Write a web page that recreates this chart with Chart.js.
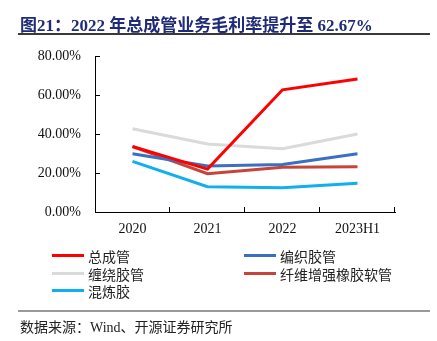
<!DOCTYPE html>
<html>
<head>
<meta charset="utf-8">
<script src="https://cdn.jsdelivr.net/npm/chart.js@4/dist/chart.umd.min.js"></script>
<style>
  html, body { margin: 0; padding: 0; background: #fff; }
  #wrap { position: relative; width: 437px; height: 341px; overflow: hidden; }
  #chart { position: absolute; left: 0; top: 0; }
  .title { position: absolute; left: 20px; top: 11px; line-height: 20px; font: bold 17px "Liberation Serif", "Noto Sans CJK SC", serif; color: #1f2a78; white-space: nowrap; }
  .rule { position: absolute; left: 18px; width: 412px; }
  .legend-item { position: absolute; height: 18px; line-height: 18px; font: 14px "Liberation Serif", "Noto Sans CJK SC", serif; color: #222; white-space: nowrap; }
  .legend-item i { position: absolute; left: 0; top: 8px; width: 32px; height: 3px; }
  .legend-item span { position: absolute; left: 36px; top: 0; }
  .source { position: absolute; left: 20px; top: 316px; line-height: 18px; font: 14px "Liberation Serif", "Noto Sans CJK SC", serif; color: #222; white-space: nowrap; }
</style>
</head>
<body>
<div id="wrap">
  <canvas id="chart" width="437" height="341"></canvas>
  <div class="title">图21：2022 年总成管业务毛利率提升至 62.67%</div>
  <div class="rule" style="top:33px;height:2px;background:#3a3a3a;"></div>
  <div id="legend"></div>
  <div class="rule" style="top:310px;height:2px;background:#9a9a9a;"></div>
  <div class="source">数据来源：Wind、开源证券研究所</div>
</div>
<script>
// Gross margin by product line, %
const categories = ['2020', '2021', '2022', '2023H1'];
const assemblyHose = [33.6, 22.0, 62.67, 68.2];      // 总成管
const braidedHose = [29.9, 23.6, 24.4, 29.9];       // 编织胶管
const wrappedHose = [42.7, 34.9, 32.5, 40.0];       // 缠绕胶管
const fiberHose = [33.5, 19.6, 22.9, 23.2];         // 纤维增强橡胶软管
const rubberCompound = [26.0, 13.0, 12.5, 14.7];    // 混炼胶
const yTicks = [0, 20, 40, 60, 80];

const series = [
  { name: '总成管', data: assemblyHose, color: '#ff0000', col: 0, row: 0 },
  { name: '编织胶管', data: braidedHose, color: '#3a70c4', col: 1, row: 0 },
  { name: '缠绕胶管', data: wrappedHose, color: '#dadada', col: 0, row: 1 },
  { name: '纤维增强橡胶软管', data: fiberHose, color: '#c6443a', col: 1, row: 1 },
  { name: '混炼胶', data: rubberCompound, color: '#10b0ee', col: 0, row: 2 }
];

// HTML legend in two columns
const legendEl = document.getElementById('legend');
series.forEach(s => {
  const d = document.createElement('div');
  d.className = 'legend-item';
  d.style.left = (s.col === 0 ? 52 : 244) + 'px';
  d.style.top = (246 + s.row * 17.5) + 'px';
  d.innerHTML = '<i style="background:' + s.color + '"></i><span>' + s.name + '</span>';
  legendEl.appendChild(d);
});

// Short inward tick marks on both axes
const innerTicks = {
  id: 'innerTicks',
  afterDraw(chart) {
    const { ctx, chartArea: a, scales } = chart;
    ctx.save();
    ctx.strokeStyle = '#000';
    ctx.lineWidth = 1;
    ctx.beginPath();
    yTicks.forEach(v => {
      const y = Math.round(scales.y.getPixelForValue(v)) + 0.5;
      ctx.moveTo(a.left, y); ctx.lineTo(a.left + 5, y);
    });
    const step = (a.right - a.left) / categories.length;
    for (let i = 1; i <= categories.length; i++) {
      const x = Math.round(a.left + step * i) - 0.5;
      ctx.moveTo(x, a.bottom); ctx.lineTo(x, a.bottom - 5);
    }
    ctx.stroke();
    ctx.restore();
  }
};

const serif = '"Liberation Serif", "Times New Roman", serif';

new Chart(document.getElementById('chart'), {
  type: 'line',
  data: {
    labels: categories,
    datasets: series.map(s => ({
      label: s.name,
      data: s.data,
      borderColor: s.color,
      backgroundColor: s.color,
      borderWidth: 3,
      pointRadius: 0,
      tension: 0,
      fill: false
    }))
  },
  options: {
    responsive: false,
    animation: false,
    layout: { padding: { top: 56, right: 42, left: 0, bottom: 0 } },
    plugins: { legend: { display: false }, tooltip: { enabled: false } },
    scales: {
      x: {
        offset: true,
        grid: { display: false, drawTicks: false },
        border: { display: true, color: '#000', width: 1 },
        ticks: { color: '#111', padding: 9, maxRotation: 0, font: { family: serif, size: 14 } },
        afterFit(scale) { scale.height = 129; }
      },
      y: {
        min: 0,
        max: 80,
        afterBuildTicks(scale) { scale.ticks = yTicks.map(v => ({ value: v })); },
        grid: { display: false, drawTicks: false },
        border: { display: true, color: '#000', width: 1 },
        ticks: {
          color: '#111',
          padding: 14,
          font: { family: serif, size: 14 },
          callback: v => v.toFixed(2) + '%'
        },
        afterFit(scale) { scale.width = 95; }
      }
    }
  },
  plugins: [innerTicks]
});
</script>
</body>
</html>
